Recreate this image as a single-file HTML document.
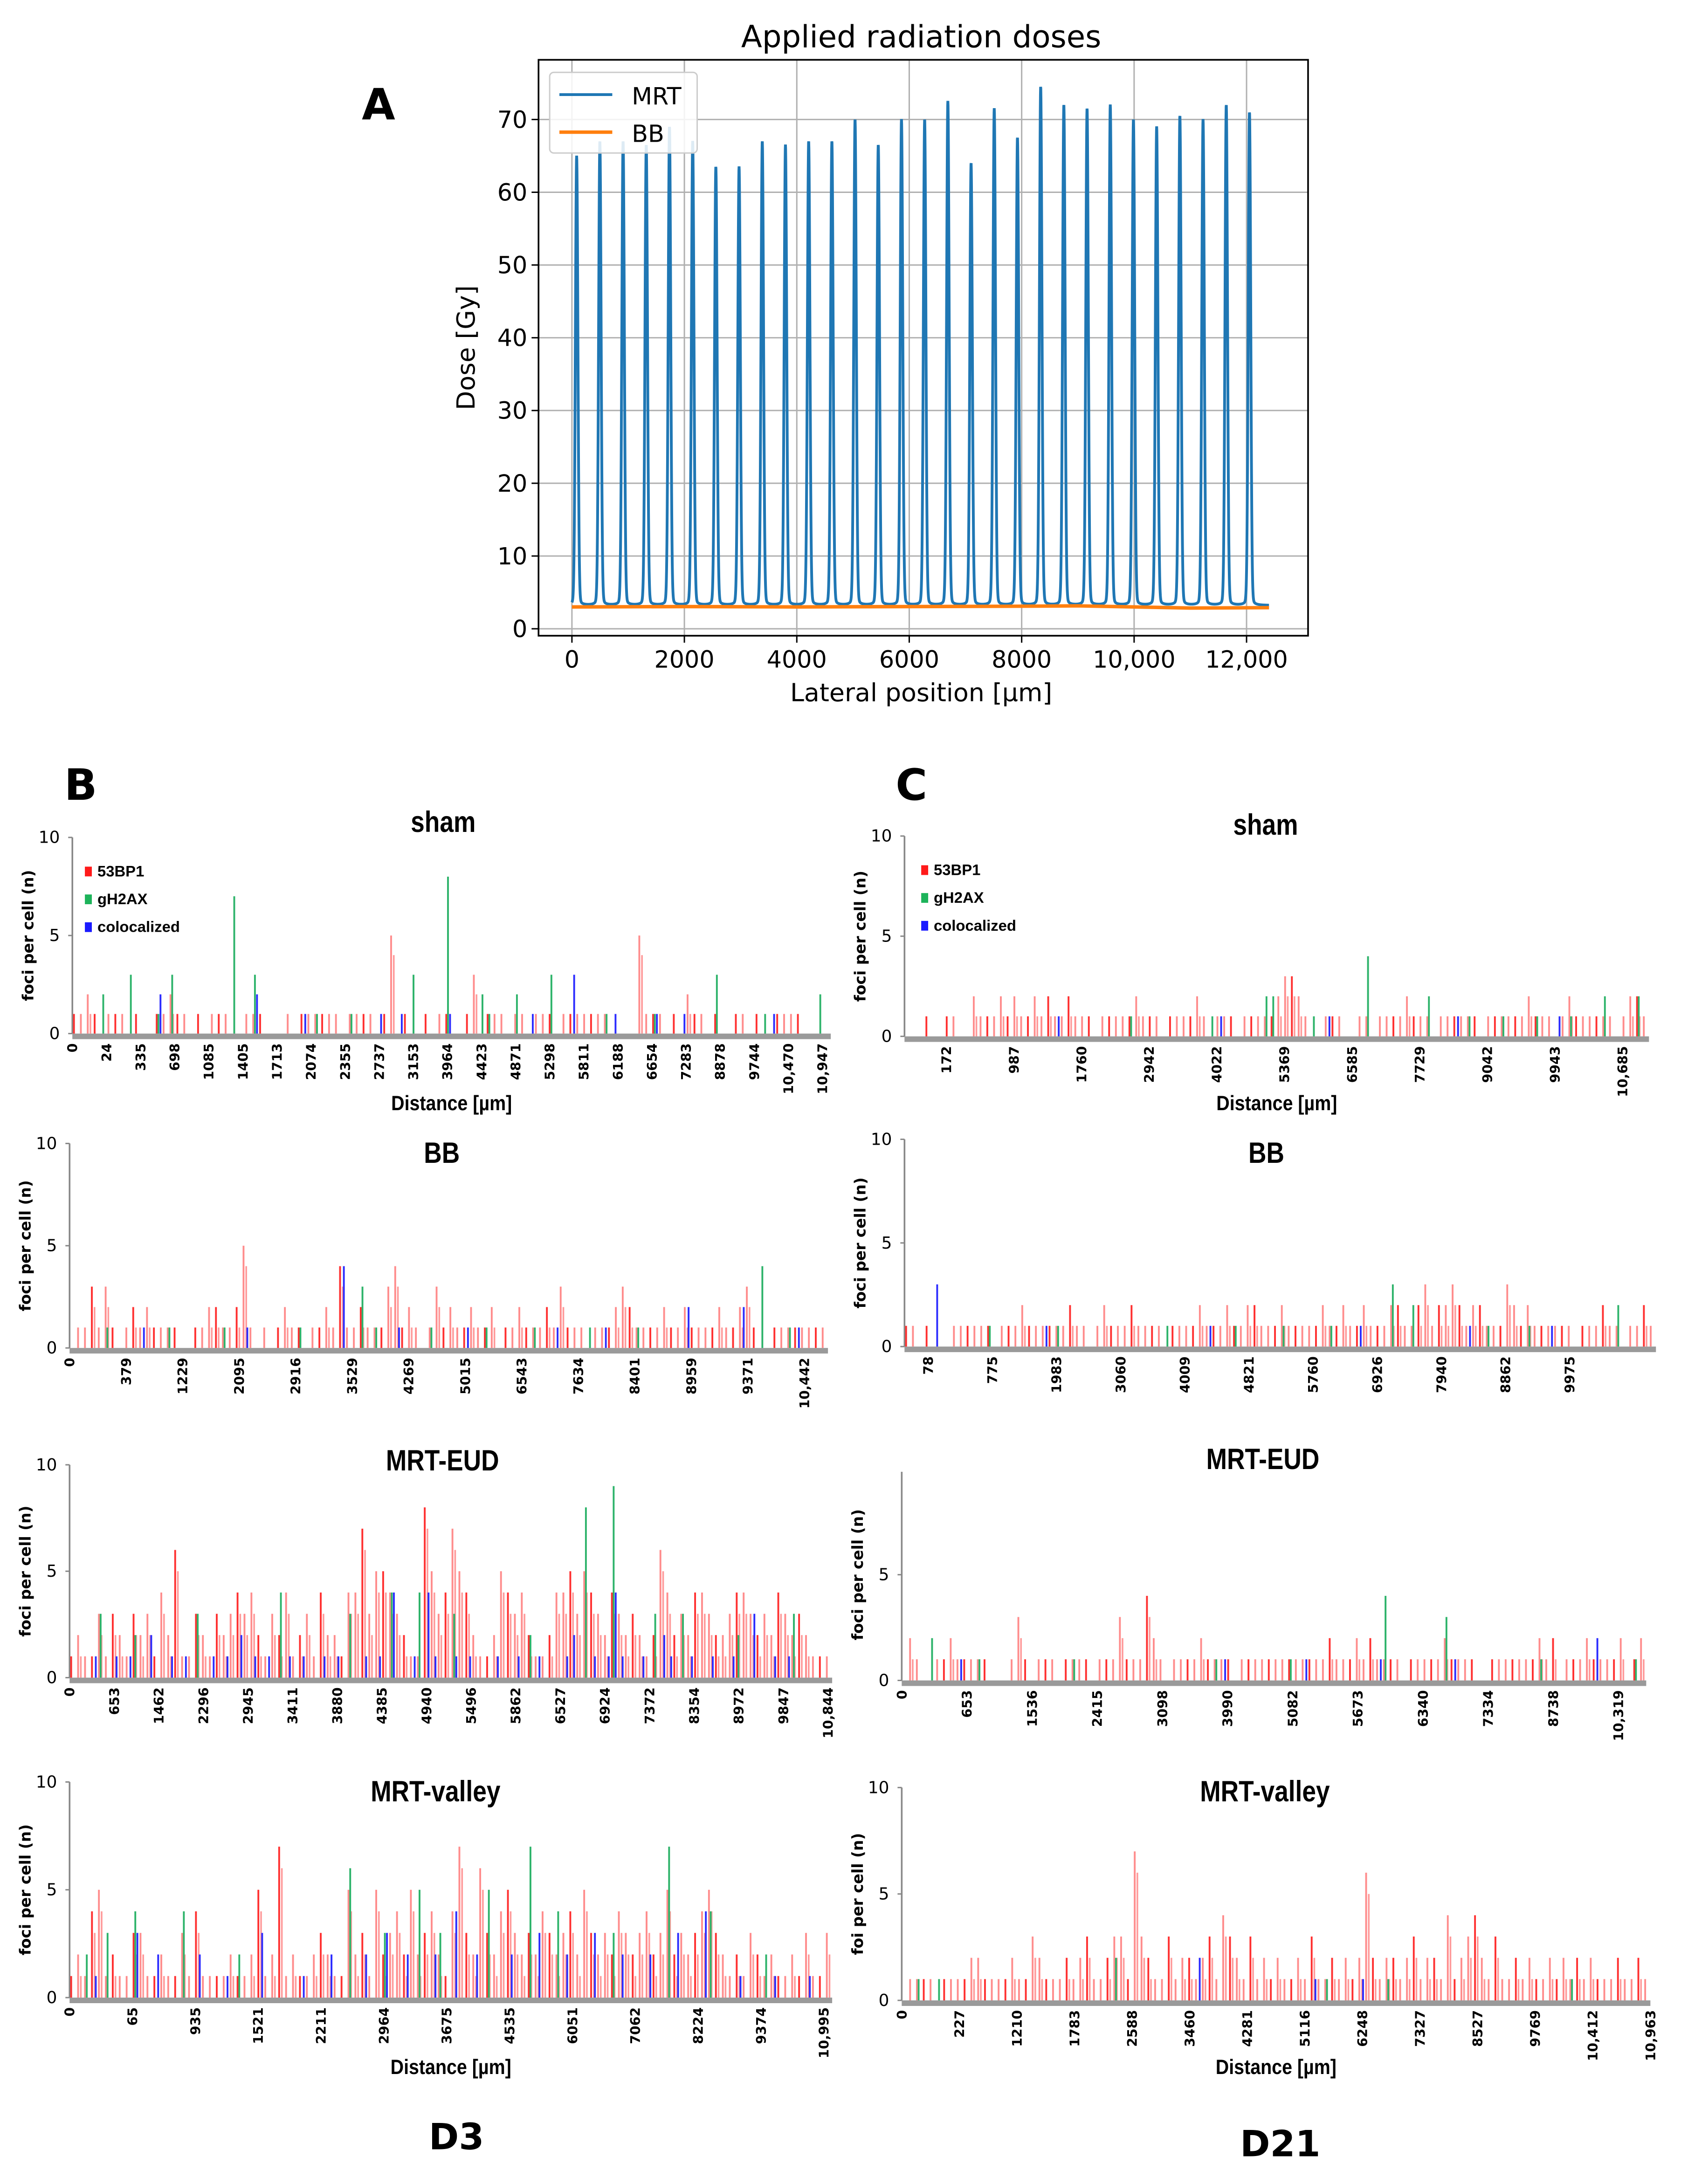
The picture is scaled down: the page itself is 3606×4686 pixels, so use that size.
<!DOCTYPE html>
<html><head><meta charset="utf-8"><style>
html,body{margin:0;padding:0;background:#fff}
svg{display:block}
.dj{font-family:"DejaVu Sans","Liberation Sans",sans-serif}
.cb{font-family:"Liberation Sans Narrow","Liberation Sans",sans-serif;font-weight:bold}
</style></head><body>
<svg id="fig" xmlns="http://www.w3.org/2000/svg" width="3606" height="4686" viewBox="0 0 1208 1570" preserveAspectRatio="none">
<g id="panelA"></g>
<g id="panelBC"></g>
<text x="272" y="86" class="dj" font-size="31" font-weight="bold" text-anchor="middle">A</text>
<text x="58" y="575" class="dj" font-size="31" font-weight="bold" text-anchor="middle">B</text>
<text x="655" y="575" class="dj" font-size="31" font-weight="bold" text-anchor="middle">C</text>
<text x="328" y="1545" class="dj" font-size="26" font-weight="bold" text-anchor="middle">D3</text>
<text x="920" y="1550" class="dj" font-size="26" font-weight="bold" text-anchor="middle">D21</text>
</svg>
<script>
// ---------- Panel A data ----------
const peakPos = [84,497,910,1322,1735,2148,2560,2973,3386,3798,4211,4624,5036,5449,5862,6274,6687,7100,7512,7925,8338,8750,9163,9576,9988,10401,10814,11226,11639,12052];
const peakDose = [65,67,67,66.5,69,67,63.5,63.5,67,66.5,67,67,70,66.5,70,70,72.5,64,71.5,67.5,74.5,72,71.5,72,70,69,70.5,70,72,71];
const valleyDose = [3.2];
const bbX = [0,2000,4000,6000,8000,9000,10000,11000,12400];
const bbDose = [3.0,3.05,3.0,3.05,3.1,3.15,3.0,2.85,2.9];
const aXTicks = [0,2000,4000,6000,8000,10000,12000];
const aXTickLabels = ["0","2000","4000","6000","8000","10,000","12,000"];
const aYTicks = [0,10,20,30,40,50,60,70];

const NS="http://www.w3.org/2000/svg";
function mk(tag,attrs,parent){const e=document.createElementNS(NS,tag);for(const k in attrs)e.setAttribute(k,attrs[k]);if(parent)parent.appendChild(e);return e;}

(function(){
 const g=document.getElementById('panelA');
 const L=387,R=940,T=43,B=457;
 const xs=v=>411+(v/2000)*80.8;
 const ys=v=>452-v*5.23;
 aXTicks.forEach((t,i)=>{
  const gl=mk('line',{x1:xs(t),x2:xs(t),y1:T,y2:B,stroke:'#b0b0b0','stroke-width':1},g);
  
  
  mk('line',{x1:xs(t),x2:xs(t),y1:B,y2:B+5,stroke:'#000','stroke-width':1},g);
  const tx=mk('text',{x:xs(t),y:B+23,'text-anchor':'middle','font-size':17,class:'dj'},g);
  tx.textContent=aXTickLabels[i];
  
  
 });
 aYTicks.forEach(t=>{
  const gl=mk('line',{x1:L,x2:R,y1:ys(t),y2:ys(t),stroke:'#b0b0b0','stroke-width':1},g);
  
  
  mk('line',{x1:L-5,x2:L,y1:ys(t),y2:ys(t),stroke:'#000','stroke-width':1},g);
  const tx=mk('text',{x:L-8,y:ys(t)+6,'text-anchor':'end','font-size':17,class:'dj'},g);
  tx.textContent=String(t);
  
  
 });
 let d='';
 for(let x=0;x<=12400;x+=3){
  let v=valleyDose[0];
  for(let i=0;i<peakPos.length;i++){const dx=(x-peakPos[i]);
   v+=(peakDose[i]-valleyDose[0])*(0.96*Math.exp(-(dx*dx)/(2*22*22))+0.04/(1+(dx/35)*(dx/35)));}
  d+=(x?'L':'M')+xs(x).toFixed(2)+','+ys(v).toFixed(2);
 }
 const mrt=mk('path',{d:d,fill:'none',stroke:'#1f77b4','stroke-width':2},g);
 
 
 let db='';bbX.forEach((x,i)=>{db+=(i?'L':'M')+xs(x)+','+ys(bbDose[i]);});
 const bb=mk('path',{d:db,fill:'none',stroke:'#ff7f0e','stroke-width':2.5},g);
 
 
 const fr=mk('rect',{x:L,y:T,width:R-L,height:B-T,fill:'none',stroke:'#000','stroke-width':1.2},g);
 
 
 const lg=mk('g',{},g);
 
 
 mk('rect',{x:395,y:52,width:106,height:58,rx:3,fill:'#fff','fill-opacity':0.85,stroke:'#ccc'},lg);
 mk('line',{x1:402,x2:440,y1:68,y2:68,stroke:'#1f77b4','stroke-width':2},lg);
 mk('line',{x1:402,x2:440,y1:95,y2:95,stroke:'#ff7f0e','stroke-width':2.5},lg);
 const t1=mk('text',{x:454,y:75,'font-size':17,class:'dj'},lg);t1.textContent='MRT';
 
 
 const t2=mk('text',{x:454,y:102,'font-size':17,class:'dj'},lg);t2.textContent='BB';
 
 
 const ti=mk('text',{x:662,y:34,'text-anchor':'middle','font-size':22,class:'dj'},g);ti.textContent='Applied radiation doses';
 
 
 const yl=mk('text',{x:0,y:0,'text-anchor':'middle','font-size':18,class:'dj',transform:'translate(341,250) rotate(-90)'},g);yl.textContent='Dose [Gy]';
 
 
 const xl=mk('text',{x:662,y:504,'text-anchor':'middle','font-size':18,class:'dj'},g);xl.textContent='Lateral position [µm]';
 
 
})();

// ---------- Panels B/C data ----------
const bShamRed=[1,1,2,1,0,1,1,1,0,1, 0,0,1,1,2,1,1,0,1,0, 1,1,1,0,0,1,1,1,0,0, 0,1,0,1,1,1,1,1,1,0, 1,1,1,1,0,1,5,0,1,0, 0,1,0,1,1,0,0,1,3,0, 1,1,1,0,1,1,0,1,1,1, 0,1,1,1,1,1,1,1,0,0, 0,0,5,1,1,1,0,1,0,2, 1,1,0,1,0,0,1,1,0,1, 0,0,1,1,1,1,0,0,0,0];
const bShamGIdx=[4,8,12,14,23,26,35,40,49,54,59,60,64,69,77,84,93,100,108];
const bShamGVal=[2,3,1,3,7,3,1,1,3,8,2,1,2,3,1,1,3,1,2];
const bShamBIdx=[12,26,33,44,47,54,66,72,78,84,88,101];
const bShamBVal=[2,2,1,1,1,1,1,3,1,1,1,1];
const bShamTicks=["0","24","335","698","1085","1405","1713","2074","2355","2737","3153","3964","4423","4871","5298","5811","6188","6654","7283","8878","9744","10,470","10,947"];

const bBBRed=[0,1,1,3,1,3,1,0,1,2, 1,2,1,1,1,1,0,0,1,1, 2,2,1,1,2,5,1,0,1,0, 1,2,1,1,0,1,1,2,1,4, 1,1,2,1,1,1,3,4,1,2, 1,0,1,3,1,2,1,1,2,1, 1,2,0,1,1,2,1,1,1,2, 1,3,1,1,1,0,1,1,1,2, 3,2,1,1,1,1,2,1,1,2, 1,1,1,1,2,1,1,2,3,1, 0,0,1,1,1,1,1,1,1,1];
const bBBGIdx=[5,14,22,33,42,44,52,60,67,75,82,100,104];
const bBBGVal=[1,1,1,1,3,1,1,1,1,1,1,4,1];
const bBBBIdx=[10,25,39,47,57,70,77,89,97,105];
const bBBBVal=[1,1,4,1,1,1,1,2,2,1];
const bBBTicks=["0","379","1229","2095","2916","3529","4269","5015","6543","7634","8401","8959","9371","10,442"];

const bEUDRed=[1,2,1,1,3,1,3,2,1,3, 2,3,1,4,2,6,1,1,3,2, 1,3,2,3,4,3,4,2,1,3, 2,4,1,2,3,1,4,2,2,1, 4,4,7,3,5,5,4,3,2,1, 1,8,5,3,4,7,5,4,2,1, 1,2,5,4,3,4,2,1,1,2, 4,4,5,3,5,4,3,2,4,3, 2,3,2,1,2,6,4,2,3,2, 4,4,3,2,2,3,4,4,3,2, 3,2,4,3,2,3,2,1,1,1];
const bEUDGIdx=[4,9,18,30,40,46,50,55,66,74,78,84,88,96,104];
const bEUDGVal=[3,2,3,4,3,4,4,3,2,8,9,3,3,2,3];
const bEUDBIdx=[3,6,8,11,14,16,20,22,24,26,28,31,33,36,38,42,44,46,49,51,52,55,57,61,64,67,71,72,75,77,78,79,82,85,86,89,92,95,98,101,103];
const bEUDBVal=[1,1,1,2,1,1,1,1,2,1,1,1,1,1,1,1,1,4,1,4,1,1,1,1,1,1,1,2,1,1,4,1,1,2,1,1,1,1,3,1,1];
const bEUDTicks=["0","653","1462","2296","2945","3411","3880","4385","4940","5496","5862","6527","6924","7372","8354","8972","9847","10,844"];

const bValRed=[1,2,1,4,5,1,2,1,1,3, 3,1,1,2,1,1,3,1,4,1, 1,1,1,2,1,1,2,5,1,2, 7,1,2,1,1,2,3,2,1,1, 5,2,3,1,5,2,3,4,2,5, 2,3,4,2,1,4,7,3,2,6, 3,2,4,5,3,2,3,2,4,3, 2,3,4,2,5,3,2,3,2,4, 3,2,3,4,2,3,5,2,3,2, 3,4,5,3,2,1,2,1,3,2, 1,2,1,1,2,1,3,1,1,3];
const bValGIdx=[2,5,9,16,24,40,45,50,53,60,66,70,78,86,92,100];
const bValGVal=[2,3,4,4,2,6,3,5,3,5,7,4,3,7,4,2];
const bValBIdx=[3,9,12,18,22,27,33,37,42,45,48,52,55,58,63,67,71,75,79,83,87,91,96,101,106];
const bValBVal=[1,3,2,2,1,3,1,2,2,3,2,2,4,2,2,3,2,3,2,2,3,4,1,1,1];
const bValTicks=["0","65","935","1521","2211","2964","3675","4535","6051","7062","8224","9374","10,995"];

const cShamRed=[0,0,0,1,0,0,1,1,0,0, 2,1,1,1,2,1,2,1,1,2, 1,2,1,1,2,1,1,1,0,1, 1,1,1,1,2,1,1,1,0,1, 1,1,1,2,1,0,1,1,1,0, 1,1,1,1,1,2,3,3,2,1, 0,0,1,1,1,0,0,1,1,0, 1,1,1,1,2,1,1,1,0,1, 1,1,1,1,1,0,1,1,1,1, 1,1,2,1,1,1,0,1,2,1, 1,1,1,1,1,0,1,2,2,1];
const cShamGIdx=[33,45,53,54,60,68,77,83,88,93,98,103,108];
const cShamGVal=[1,1,2,2,1,4,2,1,1,1,1,2,2];
const cShamBIdx=[22,46,62,81,96];
const cShamBVal=[1,1,1,1,1];
const cShamTicks=["172","987","1760","2942","4022","5369","6585","7729","9042","9943","10,685"];

const cBBRed=[1,1,0,1,0,0,0,1,1,1, 1,1,1,0,1,1,1,2,1,1, 1,1,1,1,2,1,1,0,1,2, 1,1,1,2,1,1,1,1,0,1, 1,1,1,2,1,1,1,2,1,1, 2,2,1,1,1,2,1,1,1,1, 1,2,1,1,2,1,1,2,1,1, 1,2,2,1,1,2,3,1,2,2, 3,2,1,2,2,1,1,1,3,2, 1,2,1,1,1,1,1,1,0,1, 1,1,2,1,1,0,1,1,2,1];
const cBBGIdx=[12,22,38,48,55,62,71,74,85,91,104];
const cBBGVal=[1,1,1,1,1,1,3,2,1,1,2];
const cBBBIdx=[4,20,44,66,82,94];
const cBBBVal=[3,1,1,1,1,1];
const cBBTicks=["78","775","1983","3060","4009","4821","5760","6926","7940","8862","9975"];

const cEUDRed=[0,2,1,0,0,1,1,2,1,1, 1,1,1,0,0,0,1,3,1,0, 1,1,1,0,1,1,1,1,0,1, 1,1,3,1,1,1,4,2,1,0, 1,1,1,1,2,1,1,1,1,0, 1,1,1,1,1,1,1,1,1,1, 1,1,1,2,1,1,1,2,1,2, 1,1,1,1,0,1,1,1,1,1, 2,1,1,1,1,0,0,1,1,1, 1,1,1,1,2,1,2,0,1,1, 1,2,1,1,1,1,2,0,1,2];
const cEUDGIdx=[4,11,25,46,57,71,80,94,108];
const cEUDGVal=[2,1,1,1,1,4,3,1,1];
const cEUDBIdx=[8,47,59,70,81,102];
const cEUDBVal=[1,1,1,1,1,2];
const cEUDTicks=["0","653","1536","2415","3098","3990","5082","5673","6340","7334","8738","10,319"];

const cValRed=[0,1,1,1,1,0,1,1,1,1, 2,2,1,1,1,1,2,1,1,3, 2,1,1,1,2,1,2,3,1,1, 2,3,3,1,7,3,2,1,1,3, 1,2,2,1,2,3,1,4,3,2, 1,3,1,2,1,2,1,1,2,1, 3,1,1,2,1,2,1,2,6,2, 1,2,2,1,2,3,1,2,2,1, 4,1,2,3,4,2,1,3,1,1, 2,1,2,1,1,2,1,2,1,2, 1,2,1,1,1,2,1,1,2,1];
const cValGIdx=[2,5,31,62,71,98];
const cValGVal=[1,1,2,1,1,1];
const cValBIdx=[43,60,67];
const cValBVal=[2,1,1];
const cValTicks=["0","227","1210","1783","2588","3460","4281","5116","6248","7327","8527","9769","10,412","10,963"];

function barChart(name,title,x0,x1,y10,y0,titleY,red,gI,gV,bI,bV,ticks,opts){
 const root=document.getElementById('panelBC');
 const g=mk('g',{},root);
 
 
 const n=red.length, w=(x1-x0)/n;
 const ys=v=>y0-(y0-y10)*v/10;
 mk('line',{x1:x0,x2:x0,y1:opts.axisTop||y10,y2:y0,stroke:'#888','stroke-width':1.2},g);
 mk('rect',{x:x0,y:y0,width:x1-x0,height:4,fill:'#9a9a9a'},g);
 const yt=opts.noTen?[0,5]:[0,5,10];
 yt.forEach(t=>{
  mk('line',{x1:x0-3,x2:x0,y1:ys(t),y2:ys(t),stroke:'#888','stroke-width':1},g);
  const tx=mk('text',{x:x0-9,y:ys(t)+4,'text-anchor':'end','font-size':12,class:'dj'},g);
  tx.textContent=String(t);
  
  
 });
 red.forEach((v,i)=>{ if(!v) return;
  const r=mk('rect',{x:x0+(i+0.1)*w,y:ys(v),width:1.3,height:y0-ys(v),fill:(i%3===0?'#ff3030':'#ff8c8c')},g);
  
  
  if(v>1){const r2=mk('rect',{x:x0+(i+0.5)*w,y:ys(v>2?v-1:1),width:1.2,height:y0-ys(v>2?v-1:1),fill:'#ff9a9a'},g);
  
  }
 });
 gI.forEach((idx,k)=>{const v=gV[k];
  const r=mk('rect',{x:x0+(idx+0.35)*w,y:ys(v),width:1.3,height:y0-ys(v),fill:'#2db36a'},g);
  
  
 });
 bI.forEach((idx,k)=>{const v=bV[k];
  const r=mk('rect',{x:x0+(idx+0.65)*w,y:ys(v),width:1.3,height:y0-ys(v),fill:'#2b2bff'},g);
  
  
 });
 const tx0=opts.t0!==undefined?opts.t0:x0, tx1=opts.t1!==undefined?opts.t1:x1-6;
 ticks.forEach((t,i)=>{
  const x=tx0+(tx1-tx0)*i/(ticks.length-1);
  const tt=mk('text',{x:0,y:0,'text-anchor':'end','font-size':9.5,class:'dj','font-weight':'bold',transform:`translate(${x+3.5},${y0+7}) rotate(-90)`},g);
  tt.textContent=t;
  
  
 });
 const cx=(x0+x1)/2+(opts.titleDx||0);
 const ti=mk('text',{x:0,y:0,'text-anchor':'middle','font-size':21,class:'cb',transform:`translate(${cx},${titleY}) scale(0.85,1)`},g);
 ti.textContent=title;
 
 
 const yl=mk('text',{x:0,y:0,'text-anchor':'middle','font-size':11,class:'dj','font-weight':'bold',transform:`translate(${x0-28},${(y10+y0)/2}) rotate(-90)`},g);
 yl.textContent=opts.ylabel||'foci per cell (n)';
 
 
 if(opts.xlabelY){const xl=mk('text',{x:0,y:0,'text-anchor':'middle','font-size':15,class:'cb',transform:`translate(${(x0+x1)/2},${opts.xlabelY}) scale(0.88,1)`},g);
  xl.textContent='Distance [µm]';
  
  }
 if(opts.legend){
  const lg=mk('g',{},g);
  
  
  [['53BP1','#ff1a1a'],['gH2AX','#1db35a'],['colocalized','#1a1aff']].forEach((e,k)=>{
   const y=opts.legend[1]+k*20;
   mk('rect',{x:opts.legend[0],y:y-7,width:5,height:7,fill:e[1]},lg);
   const lt=mk('text',{x:opts.legend[0]+9,y:y,'font-size':11,class:'cb'},lg);
   lt.textContent=e[0];
   
   
  });
 }
}
barChart('chart-b-sham','sham',52,597,602,743,598,bShamRed,bShamGIdx,bShamGVal,bShamBIdx,bShamBVal,bShamTicks,{legend:[61,630],xlabelY:798,titleDx:-6});
barChart('chart-b-bb','BB',50,595,822,969,836,bBBRed,bBBGIdx,bBBGVal,bBBBIdx,bBBBVal,bBBTicks,{t1:578,titleDx:-5});
barChart('chart-b-mrt-eud','MRT-EUD',50,598,1053,1206,1057,bEUDRed,bEUDGIdx,bEUDGVal,bEUDBIdx,bEUDBVal,bEUDTicks,{t1:595,titleDx:-6});
barChart('chart-b-mrt-valley','MRT-valley',50,598,1281,1436,1295,bValRed,bValGIdx,bValGVal,bValBIdx,bValBVal,bValTicks,{t1:592,xlabelY:1491,titleDx:-11});
barChart('chart-c-sham','sham',650,1185,601,745,600,cShamRed,cShamGIdx,cShamGVal,cShamBIdx,cShamBVal,cShamTicks,{legend:[662,629],xlabelY:798,t0:680,t1:1166,titleDx:-8});
barChart('chart-c-bb','BB',650,1190,819,968,836,cBBRed,cBBGIdx,cBBGVal,cBBBIdx,cBBBVal,cBBTicks,{t0:667,t1:1128,titleDx:-10});
barChart('chart-c-mrt-eud','MRT-EUD',648,1183,1056,1208,1056,cEUDRed,cEUDGIdx,cEUDGVal,cEUDBIdx,cEUDBVal,cEUDTicks,{noTen:true,axisTop:1058,t0:648,t1:1163,titleDx:-8});
barChart('chart-c-mrt-valley','MRT-valley',648,1186,1285,1438,1295,cValRed,cValGIdx,cValGVal,cValBIdx,cValBVal,cValTicks,{ylabel:'foi per cell (n)',xlabelY:1491,t0:648,t1:1186,titleDx:-8});
</script>
</body></html>
